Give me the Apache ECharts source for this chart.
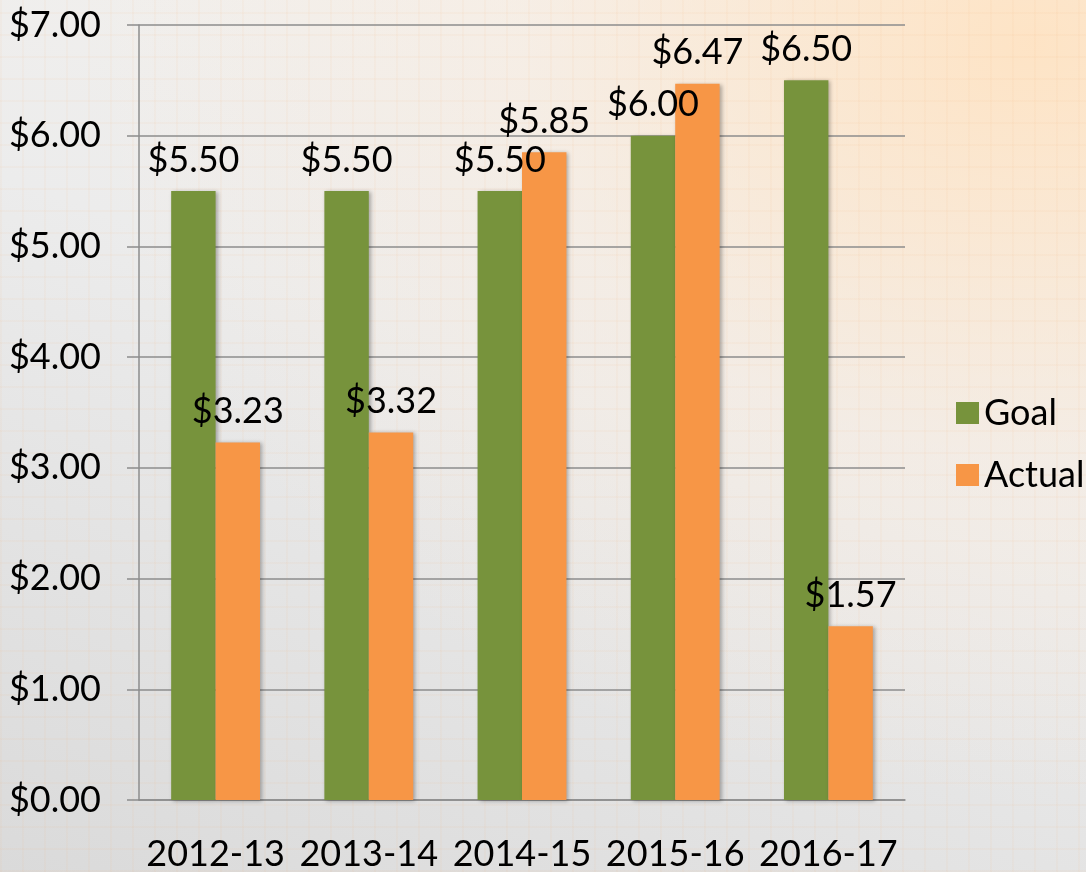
<!DOCTYPE html>
<html>
<head>
<meta charset="utf-8">
<script src="https://cdn.jsdelivr.net/npm/echarts@6/dist/echarts.min.js"></script>
<style>
  html, body { margin: 0; padding: 0; }
  #chart {
    width: 1086px; height: 872px;
    background:
      repeating-linear-gradient(90deg, rgba(240,170,110,0.06) 0 2px, transparent 2px 22px),
      repeating-linear-gradient(0deg, rgba(240,170,110,0.06) 0 2px, transparent 2px 22px),
      radial-gradient(ellipse at 95% 5%, rgba(255,225,190,0.85) 0%, rgba(250,235,220,0.45) 35%, rgba(235,235,235,0) 65%),
      linear-gradient(200deg, #f7f3ee 0%, #ececec 45%, #dadada 100%);
  }
</style>
</head>
<body>
<div id="chart"></div>
<script>
// 数据
var years = ['2012-13', '2013-14', '2014-15', '2015-16', '2016-17'];
var goal = [5.50, 5.50, 5.50, 6.00, 6.50];
var actual = [3.23, 3.32, 5.85, 6.47, 1.57];
var yTicks = [0, 1, 2, 3, 4, 5, 6, 7];

var font = 'Lato, "Open Sans", sans-serif';
var fs = 36;

function money(v) {
    return '$' + Number(v).toFixed(2);
}

var myChart = echarts.init(document.getElementById('chart'));

var option = {
    animation: false,
    textStyle: { fontFamily: font },
    legend: {
        orient: 'vertical',
        left: 951,
        top: 390,
        itemWidth: 23,
        itemHeight: 22,
        itemGap: 26,
        icon: 'rect',
        textStyle: { fontSize: fs, color: '#000', fontFamily: font },
        data: ['Goal', 'Actual']
    },
    grid: { left: 139, right: 181, top: 25, bottom: 70 },
    xAxis: {
        type: 'category',
        data: years,
        axisLine: { lineStyle: { color: '#8c8c8c', width: 1.5 } },
        axisTick: { length: 12, lineStyle: { color: '#8c8c8c', width: 1.5 } },
        axisLabel: { interval: 0, fontSize: fs, color: '#000', margin: 36, fontFamily: font }
    },
    yAxis: {
        type: 'value',
        min: yTicks[0],
        max: yTicks[yTicks.length - 1],
        interval: 1,
        axisLine: { show: true, lineStyle: { color: '#8c8c8c', width: 1.5 } },
        axisTick: { show: true, length: 12, lineStyle: { color: '#8c8c8c', width: 1.5 } },
        splitLine: { lineStyle: { color: '#8c8c8c', width: 1.5 } },
        axisLabel: { fontSize: fs, color: '#000', margin: 38, fontFamily: font, formatter: money }
    },
    series: [
        {
            name: 'Goal',
            type: 'bar',
            data: goal,
            barGap: '0%',
            barCategoryGap: '42%',
            itemStyle: { color: '#77933C', shadowBlur: 4, shadowColor: 'rgba(0,0,0,0.3)', shadowOffsetX: 2, shadowOffsetY: 1 },
            label: { show: true, position: 'top', distance: 13, fontSize: fs, color: '#000', fontFamily: font,
                formatter: function (p) { return money(p.value); } }
        },
        {
            name: 'Actual',
            type: 'bar',
            data: actual,
            itemStyle: { color: '#F79646', shadowBlur: 4, shadowColor: 'rgba(0,0,0,0.3)', shadowOffsetX: 2, shadowOffsetY: 1 },
            label: { show: true, position: 'top', distance: 13, fontSize: fs, color: '#000', fontFamily: font,
                formatter: function (p) { return money(p.value); } }
        }
    ]
};

myChart.setOption(option);
</script>
</body>
</html>
